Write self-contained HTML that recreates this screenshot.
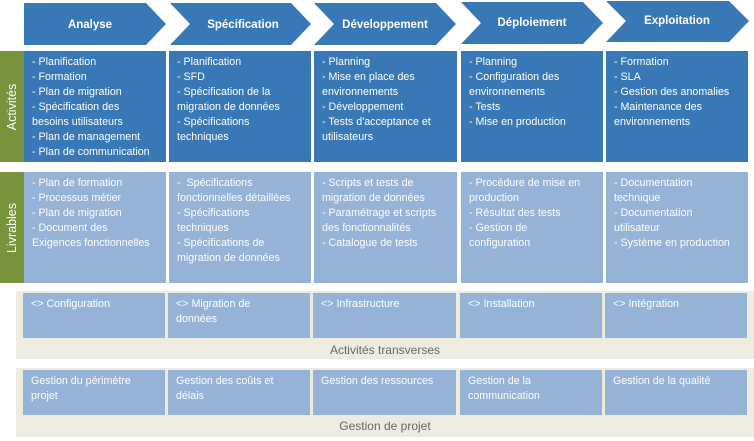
<!DOCTYPE html>
<html><head><meta charset="utf-8"><style>
body{margin:0;width:754px;height:441px;background:#fff;position:relative;overflow:hidden;font-family:"Liberation Sans",sans-serif}
.b{position:absolute;color:#fff;font-size:10.7px;line-height:15px;padding:4px 0 0 8px;box-sizing:border-box;white-space:nowrap}
.d{background:#3878b6}
.l{background:#95b3d7}
.band{position:absolute;background:#eeece1;left:16px;width:738px}
.lab{position:absolute;color:#666;font-size:12px;width:738px;text-align:center;left:16px}
.v{position:absolute;left:0;width:24px;background:#77933c;color:#fff;font-size:12.5px}
.v span{position:absolute;left:50%;top:50%;transform:translate(-50%,-50%) rotate(-90deg);white-space:nowrap}
</style></head><body>
<svg width="754" height="50" style="position:absolute;left:0;top:0">
<g fill="#3878b6">
<polygon points="24,3 146,3 166,24 146,45 24,45"/>
<polygon points="170,3 291,3 311,24 291,45 170,45 190,24"/>
<polygon points="314,3 436,3 456,24 436,45 314,45 334,24"/>
<polygon points="461,2 583,2 603,23 583,44 461,44 481,23"/>
<polygon points="606,1 729,1 749,21 729,42 606,42 626,21"/>
</g>
<g fill="#fff" font-family="Liberation Sans,sans-serif" font-size="11.5" font-weight="bold" text-anchor="middle">
<text x="90" y="28">Analyse</text>
<text x="243" y="28">Spécification</text>
<text x="385" y="28">Développement</text>
<text x="532" y="26">Déploiement</text>
<text x="677" y="24">Exploitation</text>
</g></svg>
<div class="v" style="top:51px;height:111px"><span>Activités</span></div>
<div class="v" style="top:172px;height:111px"><span>Livrables</span></div>

<div class="b d" style="left:24px;top:51px;width:142px;height:111px">- Planification<br>- Formation<br>- Plan de migration<br>- Spécification des<br>besoins utilisateurs<br>- Plan de management<br>- Plan de communication</div>
<div class="b d" style="left:169px;top:51px;width:142px;height:111px">- Planification<br>- SFD<br>- Spécification de la<br>migration de données<br>- Spécifications<br>techniques</div>
<div class="b d" style="left:314px;top:51px;width:143px;height:111px">- Planning<br>- Mise en place des<br>environnements<br>- Développement<br>- Tests d'acceptance et<br>utilisateurs</div>
<div class="b d" style="left:461px;top:51px;width:142px;height:111px">- Planning<br>- Configuration des<br>environnements<br>- Tests<br>- Mise en production</div>
<div class="b d" style="left:606px;top:51px;width:142px;height:111px">- Formation<br>- SLA<br>- Gestion des anomalies<br>- Maintenance des<br>environnements</div>

<div class="b l" style="left:24px;top:172px;width:142px;height:111px">- Plan de formation<br>- Processus métier<br>- Plan de migration<br>- Document des<br>Exigences fonctionnelles</div>
<div class="b l" style="left:169px;top:172px;width:142px;height:111px">-&nbsp; Spécifications<br>fonctionnelles détaillées<br>- Spécifications<br>techniques<br>- Spécifications de<br>migration de données</div>
<div class="b l" style="left:314px;top:172px;width:143px;height:111px">- Scripts et tests de<br>migration de données<br>- Paramétrage et scripts<br>des fonctionnalités<br>- Catalogue de tests</div>
<div class="b l" style="left:461px;top:172px;width:142px;height:111px">- Procédure de mise en<br>production<br>- Résultat des tests<br>- Gestion de<br>configuration</div>
<div class="b l" style="left:606px;top:172px;width:142px;height:111px">- Documentation<br>technique<br>- Documentation<br>utilisateur<br>- Système en production</div>

<div class="band" style="top:291px;height:68px"></div>
<div class="b l" style="left:23px;top:293px;width:142px;height:45px">&lt;&gt; Configuration</div>
<div class="b l" style="left:168px;top:293px;width:142px;height:45px">&lt;&gt; Migration de<br>données</div>
<div class="b l" style="left:313px;top:293px;width:143px;height:45px">&lt;&gt; Infrastructure</div>
<div class="b l" style="left:460px;top:293px;width:142px;height:45px">&lt;&gt; Installation</div>
<div class="b l" style="left:605px;top:293px;width:142px;height:45px">&lt;&gt; Intégration</div>
<div class="lab" style="top:343px">Activités transverses</div>

<div class="band" style="top:368px;height:69px"></div>
<div class="b l" style="left:23px;top:370px;width:142px;height:45px">Gestion du périmètre<br>projet</div>
<div class="b l" style="left:168px;top:370px;width:142px;height:45px">Gestion des coûts et<br>délais</div>
<div class="b l" style="left:313px;top:370px;width:143px;height:45px">Gestion des ressources</div>
<div class="b l" style="left:460px;top:370px;width:142px;height:45px">Gestion de la<br>communication</div>
<div class="b l" style="left:605px;top:370px;width:142px;height:45px">Gestion de la qualité</div>
<div class="lab" style="top:419px">Gestion de projet</div>
</body></html>
